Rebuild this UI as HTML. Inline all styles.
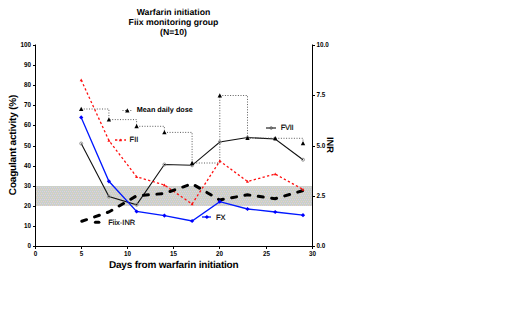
<!DOCTYPE html>
<html><head><meta charset="utf-8"><style>
html,body{margin:0;padding:0;background:#fff;}
svg{display:block;}
text{font-family:"Liberation Sans",sans-serif;text-rendering:geometricPrecision;}
.tl{font-size:6.3px;font-weight:bold;fill:#000;}
.tt{font-size:8.7px;font-weight:bold;fill:#000;}
.ax{font-size:10px;letter-spacing:-0.19px;font-weight:bold;fill:#000;}
.ax2{font-size:9.3px;font-weight:bold;fill:#000;}
.lgb{font-size:7.25px;font-weight:bold;fill:#000;}
.lg{font-size:7.5px;fill:#000;stroke:#000;stroke-width:0.15px;}
</style></head><body>
<svg width="520" height="325" viewBox="0 0 520 325">
<rect width="520" height="325" fill="#fff"/>
<defs><pattern id="st" width="4" height="4" patternUnits="userSpaceOnUse" x="36" y="186"><rect width="4" height="4" fill="#cbd1c8"/><rect x="0" y="1" width="1" height="1" fill="#e6cfd6"/><rect x="2" y="1" width="1" height="1" fill="#d2d0ee"/><rect x="1" y="3" width="1" height="1" fill="#ead0c4"/><rect x="3" y="3" width="1" height="1" fill="#d8cce8"/></pattern></defs>
<rect x="35.5" y="186" width="276.5" height="20" fill="url(#st)"/>
<path d="M35.5,44.5 V246.5 H312.5 V44.5" fill="none" stroke="#000" stroke-width="1"/>
<line x1="33" y1="246.5" x2="35" y2="246.5" stroke="#000" stroke-width="1"/>
<text transform="translate(31,248.1) scale(1,1.13)" class="tl" text-anchor="end">0</text>
<line x1="33" y1="226.5" x2="35" y2="226.5" stroke="#000" stroke-width="1"/>
<text transform="translate(31,228.1) scale(1,1.13)" class="tl" text-anchor="end">10</text>
<line x1="33" y1="206.5" x2="35" y2="206.5" stroke="#000" stroke-width="1"/>
<text transform="translate(31,208.1) scale(1,1.13)" class="tl" text-anchor="end">20</text>
<line x1="33" y1="186.5" x2="35" y2="186.5" stroke="#000" stroke-width="1"/>
<text transform="translate(31,188.1) scale(1,1.13)" class="tl" text-anchor="end">30</text>
<line x1="33" y1="166.5" x2="35" y2="166.5" stroke="#000" stroke-width="1"/>
<text transform="translate(31,168.1) scale(1,1.13)" class="tl" text-anchor="end">40</text>
<line x1="33" y1="146.5" x2="35" y2="146.5" stroke="#000" stroke-width="1"/>
<text transform="translate(31,148.1) scale(1,1.13)" class="tl" text-anchor="end">50</text>
<line x1="33" y1="125.5" x2="35" y2="125.5" stroke="#000" stroke-width="1"/>
<text transform="translate(31,127.1) scale(1,1.13)" class="tl" text-anchor="end">60</text>
<line x1="33" y1="105.5" x2="35" y2="105.5" stroke="#000" stroke-width="1"/>
<text transform="translate(31,107.1) scale(1,1.13)" class="tl" text-anchor="end">70</text>
<line x1="33" y1="85.5" x2="35" y2="85.5" stroke="#000" stroke-width="1"/>
<text transform="translate(31,87.1) scale(1,1.13)" class="tl" text-anchor="end">80</text>
<line x1="33" y1="65.5" x2="35" y2="65.5" stroke="#000" stroke-width="1"/>
<text transform="translate(31,67.1) scale(1,1.13)" class="tl" text-anchor="end">90</text>
<line x1="33" y1="45.5" x2="35" y2="45.5" stroke="#000" stroke-width="1"/>
<text transform="translate(31,47.1) scale(1,1.13)" class="tl" text-anchor="end">100</text>
<line x1="312" y1="246.5" x2="315" y2="246.5" stroke="#000" stroke-width="1"/>
<text transform="translate(316.4,248.1) scale(1,1.13)" class="tl">0.0</text>
<line x1="312" y1="196.5" x2="315" y2="196.5" stroke="#000" stroke-width="1"/>
<text transform="translate(316.4,198.1) scale(1,1.13)" class="tl">2.5</text>
<line x1="312" y1="146.5" x2="315" y2="146.5" stroke="#000" stroke-width="1"/>
<text transform="translate(316.4,148.1) scale(1,1.13)" class="tl">5.0</text>
<line x1="312" y1="95.5" x2="315" y2="95.5" stroke="#000" stroke-width="1"/>
<text transform="translate(316.4,97.1) scale(1,1.13)" class="tl">7.5</text>
<line x1="312" y1="45.5" x2="315" y2="45.5" stroke="#000" stroke-width="1"/>
<text transform="translate(316.4,47.1) scale(1,1.13)" class="tl">10.0</text>
<line x1="35.5" y1="246" x2="35.5" y2="249" stroke="#000" stroke-width="1"/>
<text transform="translate(35.5,256) scale(1,1.13)" class="tl" text-anchor="middle">0</text>
<line x1="81.5" y1="246" x2="81.5" y2="249" stroke="#000" stroke-width="1"/>
<text transform="translate(81.5,256) scale(1,1.13)" class="tl" text-anchor="middle">5</text>
<line x1="127.5" y1="246" x2="127.5" y2="249" stroke="#000" stroke-width="1"/>
<text transform="translate(127.5,256) scale(1,1.13)" class="tl" text-anchor="middle">10</text>
<line x1="173.5" y1="246" x2="173.5" y2="249" stroke="#000" stroke-width="1"/>
<text transform="translate(173.5,256) scale(1,1.13)" class="tl" text-anchor="middle">15</text>
<line x1="219.5" y1="246" x2="219.5" y2="249" stroke="#000" stroke-width="1"/>
<text transform="translate(219.5,256) scale(1,1.13)" class="tl" text-anchor="middle">20</text>
<line x1="266.5" y1="246" x2="266.5" y2="249" stroke="#000" stroke-width="1"/>
<text transform="translate(266.5,256) scale(1,1.13)" class="tl" text-anchor="middle">25</text>
<line x1="312.5" y1="246" x2="312.5" y2="249" stroke="#000" stroke-width="1"/>
<text transform="translate(312.5,256) scale(1,1.13)" class="tl" text-anchor="middle">30</text>
<polyline points="81.2,143.5 108.9,196.6 136.6,204.8 164.4,164.5 192.1,165.3 219.8,142.0 247.5,137.5 275.2,139.0 303.0,159.7" fill="none" stroke="#111" stroke-width="1.1"/>
<polyline points="81.2,117.4 108.9,181.3 136.6,211.5 164.4,215.6 192.1,221.0 219.8,201.7 247.5,209.0 275.2,212.0 303.0,215.2" fill="none" stroke="#0018ff" stroke-width="1.3"/>
<polyline points="81.2,80.0 108.9,140.5 136.6,176.8 164.4,185.0 192.1,204.0 219.8,161.0 247.5,181.5 275.2,174.0 303.0,189.5" fill="none" stroke="#ff1010" stroke-width="1.3" stroke-dasharray="2.3 2.3"/>
<path d="M81.2,109.0 H108.9 V119.6 H136.6 V126.3 H164.4 V132.4 H192.1 V163.0 H219.8 V95.5 H247.5 V138.2 H275.2 V138.3 H303.0 V143.3" fill="none" stroke="#4a4a4a" stroke-width="0.9" stroke-dasharray="1 1.6"/>
<polyline points="81.2,221.5 108.9,212.0 136.6,195.8 164.4,193.5 192.1,183.8 219.8,200.0 247.5,194.8 275.2,198.7 303.0,190.6" fill="none" stroke="#000" stroke-width="3" stroke-linecap="round" stroke-dasharray="5 8.51" stroke-dashoffset="-0.64"/>
<circle cx="81.2" cy="143.5" r="1.5" fill="none" stroke="#8a8a8a" stroke-width="0.9"/>
<circle cx="108.9" cy="196.6" r="1.5" fill="none" stroke="#8a8a8a" stroke-width="0.9"/>
<circle cx="136.6" cy="204.8" r="1.5" fill="none" stroke="#8a8a8a" stroke-width="0.9"/>
<circle cx="164.4" cy="164.5" r="1.5" fill="none" stroke="#8a8a8a" stroke-width="0.9"/>
<circle cx="192.1" cy="165.3" r="1.5" fill="none" stroke="#8a8a8a" stroke-width="0.9"/>
<circle cx="219.8" cy="142.0" r="1.5" fill="none" stroke="#8a8a8a" stroke-width="0.9"/>
<circle cx="247.5" cy="137.5" r="1.5" fill="none" stroke="#8a8a8a" stroke-width="0.9"/>
<circle cx="275.2" cy="139.0" r="1.5" fill="none" stroke="#8a8a8a" stroke-width="0.9"/>
<circle cx="303.0" cy="159.7" r="1.5" fill="none" stroke="#8a8a8a" stroke-width="0.9"/>
<path d="M81.2,106.8 L83.4,110.9 L79.0,110.9Z" fill="#000"/>
<path d="M108.9,117.4 L111.1,121.5 L106.7,121.5Z" fill="#000"/>
<path d="M136.6,124.1 L138.8,128.2 L134.4,128.2Z" fill="#000"/>
<path d="M164.4,130.2 L166.6,134.3 L162.2,134.3Z" fill="#000"/>
<path d="M192.1,160.8 L194.3,164.9 L189.9,164.9Z" fill="#000"/>
<path d="M219.8,93.3 L222.0,97.4 L217.6,97.4Z" fill="#000"/>
<path d="M247.5,136.0 L249.7,140.1 L245.3,140.1Z" fill="#000"/>
<path d="M275.2,136.1 L277.4,140.2 L273.0,140.2Z" fill="#000"/>
<path d="M303.0,141.1 L305.2,145.2 L300.8,145.2Z" fill="#000"/>
<path d="M81.2,115.3 L83.3,117.4 L81.2,119.5 L79.1,117.4Z" fill="#00f" stroke="none" stroke-width="0"/>
<path d="M108.9,179.2 L111.0,181.3 L108.9,183.4 L106.8,181.3Z" fill="#00f" stroke="none" stroke-width="0"/>
<path d="M136.6,209.4 L138.7,211.5 L136.6,213.6 L134.5,211.5Z" fill="#00f" stroke="none" stroke-width="0"/>
<path d="M164.4,213.5 L166.5,215.6 L164.4,217.7 L162.3,215.6Z" fill="#00f" stroke="none" stroke-width="0"/>
<path d="M192.1,218.9 L194.2,221.0 L192.1,223.1 L190.0,221.0Z" fill="#00f" stroke="none" stroke-width="0"/>
<path d="M219.8,199.6 L221.9,201.7 L219.8,203.8 L217.7,201.7Z" fill="#00f" stroke="none" stroke-width="0"/>
<path d="M247.5,206.9 L249.6,209.0 L247.5,211.1 L245.4,209.0Z" fill="#00f" stroke="none" stroke-width="0"/>
<path d="M275.2,209.9 L277.3,212.0 L275.2,214.1 L273.1,212.0Z" fill="#00f" stroke="none" stroke-width="0"/>
<path d="M303.0,213.1 L305.1,215.2 L303.0,217.3 L300.9,215.2Z" fill="#00f" stroke="none" stroke-width="0"/>
<path d="M81.2,78.5 L82.7,81.3 L79.7,81.3Z" fill="#ff1010"/>
<path d="M108.9,139.0 L110.4,141.8 L107.4,141.8Z" fill="#ff1010"/>
<path d="M136.6,175.3 L138.1,178.1 L135.1,178.1Z" fill="#ff1010"/>
<path d="M164.4,183.5 L165.9,186.3 L162.9,186.3Z" fill="#ff1010"/>
<path d="M192.1,202.5 L193.6,205.3 L190.6,205.3Z" fill="#ff1010"/>
<path d="M219.8,159.5 L221.3,162.3 L218.3,162.3Z" fill="#ff1010"/>
<path d="M247.5,180.0 L249.0,182.8 L246.0,182.8Z" fill="#ff1010"/>
<path d="M275.2,172.5 L276.7,175.3 L273.7,175.3Z" fill="#ff1010"/>
<path d="M303.0,188.0 L304.5,190.8 L301.5,190.8Z" fill="#ff1010"/>
<line x1="122.5" y1="110.5" x2="132" y2="110.5" stroke="#4a4a4a" stroke-width="0.9" stroke-dasharray="1 1.6"/>
<path d="M127.3,108.3 L129.5,112.4 L125.1,112.4Z" fill="#000"/>
<text x="136.8" y="112.1" class="lgb">Mean daily dose</text>
<line x1="115" y1="140" x2="126" y2="140" stroke="#ff1010" stroke-width="1.3" stroke-dasharray="2.3 2.3"/>
<path d="M120.3,138.5 L121.8,141.3 L118.8,141.3Z" fill="#ff1010"/>
<text x="129.6" y="142.2" class="lg">FII</text>
<line x1="266" y1="128" x2="276" y2="128" stroke="#111" stroke-width="1.1"/>
<circle cx="271.2" cy="128" r="1.3" fill="none" stroke="#555" stroke-width="0.8"/>
<text x="280.8" y="130.1" class="lg" style="letter-spacing:-0.35px">FVII</text>
<line x1="202" y1="217" x2="211" y2="217" stroke="#0018ff" stroke-width="1.3"/>
<path d="M206.9,214.9 L209.0,217.0 L206.9,219.1 L204.8,217.0Z" fill="#00f" stroke="none" stroke-width="0"/>
<text x="215.9" y="219.6" class="lg">FX</text>
<line x1="95.4" y1="222.3" x2="98.9" y2="222.3" stroke="#000" stroke-width="3" stroke-linecap="round"/>
<text x="108.2" y="224.6" class="lg">Fiix-INR</text>
<text x="173.5" y="14.7" class="tt" text-anchor="middle">Warfarin initiation</text>
<text x="173.5" y="24.7" class="tt" text-anchor="middle">Fiix monitoring group</text>
<text x="173.5" y="34.7" class="tt" text-anchor="middle">(N=10)</text>
<text x="173.7" y="268.1" class="ax" text-anchor="middle">Days from warfarin initiation</text>
<text transform="translate(15.8,145) rotate(-90)" class="ax" text-anchor="middle">Coagulant activity (%)</text>
<text transform="translate(326.5,145) rotate(90)" class="ax2" text-anchor="middle">INR</text>
</svg>
</body></html>
